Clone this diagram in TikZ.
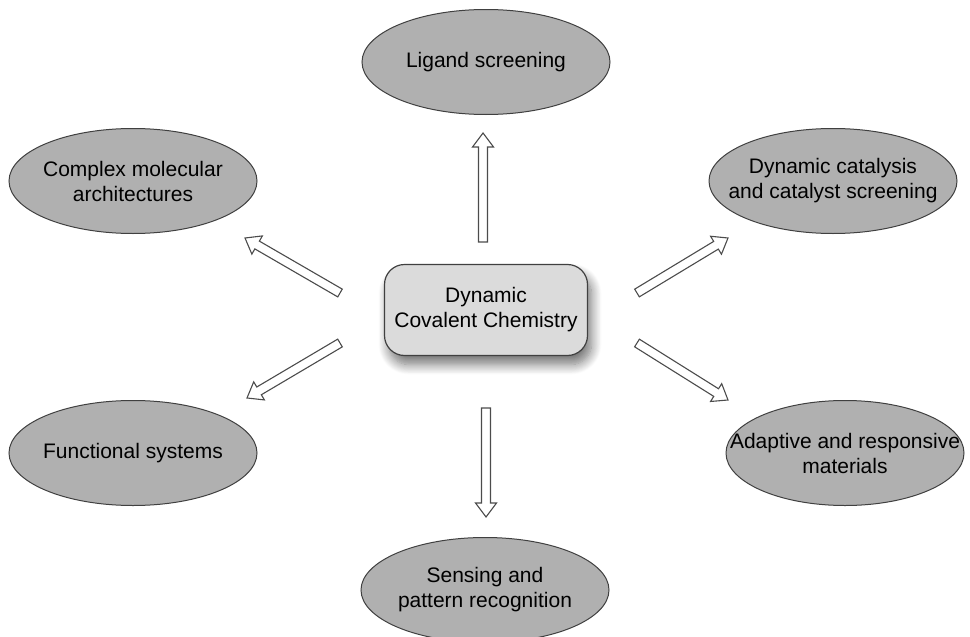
\documentclass[tikz,border=0pt]{standalone}
\usepackage{fontspec}
\setmainfont{Liberation Sans}
\usetikzlibrary{shapes.geometric,calc,shadows.blur}

\tikzset{
  bubble/.style={ellipse, draw=black!75, line width=1pt, fill=black!31,
    minimum width=248pt, minimum height=105pt, inner xsep=-45pt, inner ysep=-16pt,
    align=center, font=\fontsize{21}{25}\selectfont},
  hub/.style={rectangle, rounded corners=20pt, draw=black!75, line width=1.2pt,
    fill=black!14, minimum width=203pt, minimum height=91pt, inner sep=0pt,
    align=center, font=\fontsize{21}{25}\selectfont,
    blur shadow={shadow xshift=4pt, shadow yshift=-9pt, shadow blur radius=10pt,
      shadow blur steps=12, shadow opacity=55}},
  fatline/.style={draw=black!70, line width=1.1pt, fill=white, line join=miter},
}

\newcommand\fatarrow[2]{%
  \coordinate (hb) at ($(#2)!14pt!(#1)$);
  \draw[fatline] ($(#1)!4.5pt!90:(#2)$) -- ($(hb)!4.5pt!90:(#2)$)
    -- ($(hb)!10.5pt!90:(#2)$) -- (#2) -- ($(hb)!10.5pt!-90:(#2)$)
    -- ($(hb)!4.5pt!-90:(#2)$) -- ($(#1)!4.5pt!-90:(#2)$) -- cycle;
}

\begin{document}
\begin{tikzpicture}[x=1pt,y=-1pt]
\useasboundingbox (0,0) rectangle (970,637);

\node[hub] (dcc) at (486,310) {Dynamic\\Covalent Chemistry};

\node[bubble] (lig) at (486,62) {Ligand screening};
\node[bubble] (cma) at (133,181) {Complex molecular\\architectures};
\node[bubble] (dyn) at (833,181) {Dynamic catalysis\\and catalyst screening};
\node[bubble] (fun) at (133,453) {Functional systems};
\node[bubble, minimum width=238pt] (ada) at (845,453) {Adaptive and responsive\\materials};
\node[bubble] (sen) at (485,590) {Sensing and\\pattern recognition};

\coordinate (upT) at (483,242);  \coordinate (upH) at (483,133);
\coordinate (dnT) at (486,408);  \coordinate (dnH) at (486,517);
\coordinate (ulT) at (340,293);  \coordinate (ulH) at (245,238);
\coordinate (urT) at (637,293);  \coordinate (urH) at (728,238);
\coordinate (llT) at (340,343);  \coordinate (llH) at (247,398);
\coordinate (lrT) at (637,343);  \coordinate (lrH) at (728,400);

\fatarrow{upT}{upH}
\fatarrow{dnT}{dnH}
\fatarrow{ulT}{ulH}
\fatarrow{urT}{urH}
\fatarrow{llT}{llH}
\fatarrow{lrT}{lrH}
\end{tikzpicture}
\end{document}
